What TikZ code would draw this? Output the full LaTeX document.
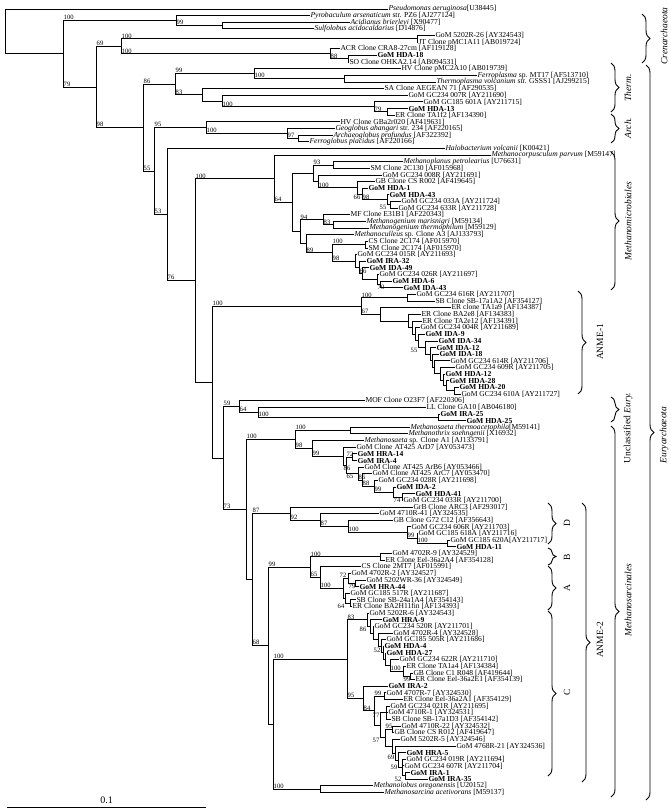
\documentclass[tikz,border=0pt]{standalone}
\usepackage{fontspec}
\setmainfont{Liberation Serif}
\usetikzlibrary{calc,decorations.pathreplacing}
\newcommand{\leaf}[3]{\node[leaf] (l#1) at (#2,{ly(#1)}) {#3};}
\newcommand{\clade}[3]{%
  \foreach \c [count=\k] in {#3}{%
    \ifnum\k=1 \global\let\cfirst\c\fi
    \global\let\clast\c}%
  \path let \p1=(\cfirst), \p2=(\clast) in
    coordinate (#1) at (#2,{0.5*\y1+0.5*\y2});
  \foreach \c in {#3}{\draw[branch] (#1) |- (\c);}}

\begin{document}
\begin{tikzpicture}[x=1pt,y=-1pt,
  declare function={ly(\i)=9+(\i-1)*6.64;},
  branch/.style={line width=1pt},
  leaf/.style={anchor=west,inner sep=0.3pt,font=\fontsize{7.6}{8}\selectfont},
  bs/.style={anchor=south west,inner sep=0.5pt,font=\fontsize{6.6}{7}\selectfont},
  grp/.style={rotate=90,font=\fontsize{9.5}{11}\selectfont},
  brc/.style={decorate,decoration={brace,amplitude=8pt},line width=0.9pt}]
\useasboundingbox (0,0) rectangle (671,812);

\leaf{1}{388}{\textit{Pseudomonas aeruginosa}[U38445]}
\leaf{2}{310}{\textit{Pyrobaculum arsenaticum} str. PZ6 [AJ277124]}
\leaf{3}{350}{\textit{Acidianus brierleyi} [X90477]}
\leaf{4}{314}{\textit{Sulfolobus acidocaldarius} [D14876]}
\leaf{5}{435}{GoM 5202R-26 [AY324543]}
\leaf{6}{418}{JT Clone pMC1A11 [AB019724]}
\leaf{7}{340}{ACR Clone CRA8-27cm [AF119128]}
\leaf{8}{377}{\textbf{GoM HDA-18}}
\leaf{9}{349}{SO Clone OHKA2.14 [AB094531]}
\leaf{10}{401}{HV Clone pMC2A10 [AB019739]}
\leaf{11}{477}{\textit{Ferroplasma} sp. MT17 [AF513710]}
\leaf{12}{436}{\textit{Thermoplasma volcanium} str. GSSS1 [AJ299215]}
\leaf{13}{384}{SA Clone AEGEAN 71 [AF290535]}
\leaf{14}{408}{GoM GC234 007R [AY211690]}
\leaf{15}{423}{GoM GC185 601A [AY211715]}
\leaf{16}{408}{\textbf{GoM HDA-13}}
\leaf{17}{395}{ER Clone TA1f2 [AF134390]}
\leaf{18}{340}{HV Clone GBa2r020 [AF419631]}
\leaf{19}{335}{\textit{Geoglobus ahangari} str. 234 [AF220165]}
\leaf{20}{333}{\textit{Archaeoglobus profundus} [AF322392]}
\leaf{21}{309}{\textit{Ferroglobus placidus} [AF220166]}
\leaf{22}{445}{\textit{Halobacterium volcanii} [K00421]}
\leaf{23}{491}{\textit{Methanocorpusculum parvum} [M59147]}
\leaf{24}{403}{\textit{Methanoplanus petrolearius} [U76631]}
\leaf{25}{370}{SM Clone 2C130 [AF015968]}
\leaf{26}{382}{GoM GC234 008R [AY211691]}
\leaf{27}{375}{GB Clone CS R002 [AF419645]}
\leaf{28}{368}{\textbf{GoM HDA-1}}
\leaf{29}{389}{\textbf{GoM HDA-43}}
\leaf{30}{401}{GoM GC234 033A [AY211724]}
\leaf{31}{398}{GoM GC234 633R [AY211728]}
\leaf{32}{350}{MF Clone E31B1 [AF220343]}
\leaf{33}{366}{\textit{Methanogenium marisnigri} [M59134]}
\leaf{34}{369}{\textit{Methanogenium thermophilum} [M59129]}
\leaf{35}{354}{\textit{Methanoculleus} sp. Clone A3 [AJ133793]}
\leaf{36}{368}{CS Clone 2C174 [AF015970]}
\leaf{37}{368}{SM Clone 2C174 [AF015970]}
\leaf{38}{357}{GoM GC234 015R [AY211693]}
\leaf{39}{366}{\textbf{GoM IRA-32}}
\leaf{40}{369}{\textbf{GoM IDA-49}}
\leaf{41}{379}{GoM GC234 026R [AY211697]}
\leaf{42}{392}{\textbf{GoM HDA-6}}
\leaf{43}{403}{\textbf{GoM IDA-43}}
\leaf{44}{416}{GoM GC234 616R [AY211707]}
\leaf{45}{435}{SB Clone SB-17a1A2 [AF354127]}
\leaf{46}{451}{ER clone TA1a9 [AF134387]}
\leaf{47}{421}{ER Clone BA2e8 [AF134383]}
\leaf{48}{422}{ER Clone TA2e12 [AF134391]}
\leaf{49}{420}{GoM GC234 004R [AY211689]}
\leaf{50}{425}{\textbf{GoM IDA-9}}
\leaf{51}{438}{\textbf{GoM IDA-34}}
\leaf{52}{436}{\textbf{GoM IDA-12}}
\leaf{53}{439}{\textbf{GoM IDA-18}}
\leaf{54}{450}{GoM GC234 614R [AY211706]}
\leaf{55}{455}{GoM GC234 609R [AY211705]}
\leaf{56}{445}{\textbf{GoM HDA-12}}
\leaf{57}{449}{\textbf{GoM HDA-28}}
\leaf{58}{459}{\textbf{GoM HDA-20}}
\leaf{59}{461}{GoM GC234 610A [AY211727]}
\leaf{60}{365}{MOF Clone O23F7 [AF220306]}
\leaf{61}{426}{LL Clone GA10 [AB046180]}
\leaf{62}{440}{\textbf{GoM IRA-25}}
\leaf{63}{466}{\textbf{GoM HDA-25}}
\leaf{64}{410}{\textit{Methanosaeta thermoacetophila}[M59141]}
\leaf{65}{408}{\textit{Methanothrix soehngenii} [X16932]}
\leaf{66}{364}{\textit{Methanosaeta} sp. Clone A1 [AJ133791]}
\leaf{67}{356}{GoM Clone AT425 ArD7 [AY053473]}
\leaf{68}{357}{\textbf{GoM HRA-14}}
\leaf{69}{357}{\textbf{GoM IRA-4}}
\leaf{70}{364}{GoM Clone AT425 ArB6 [AY053466]}
\leaf{71}{372}{GoM Clone AT425 ArC7 [AY053470]}
\leaf{72}{378}{GoM GC234 028R [AY211698]}
\leaf{73}{396}{\textbf{GoM IDA-2}}
\leaf{74}{415}{\textbf{GoM HDA-41}}
\leaf{75}{403}{GoM GC234 033R [AY211700]}
\leaf{76}{413}{GrB Clone ARC3 [AF293017]}
\leaf{77}{379}{GoM 4710R-41 [AY324535]}
\leaf{78}{393}{GB Clone G72 C12 [AF356643]}
\leaf{79}{411}{GoM GC234 606R [AY211703]}
\leaf{80}{418}{GoM GC185 618A [AY211716]}
\leaf{81}{450}{GoM GC185 620A[AY211717]}
\leaf{82}{456}{\textbf{GoM HDA-11}}
\leaf{83}{392}{GoM 4702R-9 [AY324529]}
\leaf{84}{385}{ER Clone Eel-36a2A4 [AF354128]}
\leaf{85}{361}{CS Clone 2MT7 [AF015991]}
\leaf{86}{351}{GoM 4702R-2 [AY324527]}
\leaf{87}{366}{GoM 5202WR-36 [AY324549]}
\leaf{88}{359}{\textbf{GoM HRA-44}}
\leaf{89}{350}{GoM GC185 517R [AY211687]}
\leaf{90}{356}{SB Clone SB-24a1A4 [AF354143]}
\leaf{91}{352}{ER Clone BA2H11fin [AF134393]}
\leaf{92}{369}{GoM 5202R-6 [AY324543]}
\leaf{93}{382}{\textbf{GoM HRA-9}}
\leaf{94}{374}{GoM GC234 520R [AY211701]}
\leaf{95}{393}{GoM 4702R-4 [AY324528]}
\leaf{96}{386}{GoM GC185 505R [AY211686]}
\leaf{97}{384}{\textbf{GoM HDA-4}}
\leaf{98}{386}{\textbf{GoM HDA-27}}
\leaf{99}{399}{GoM GC234 622R [AY211710]}
\leaf{100}{406}{ER Clone TA1a4 [AF134384]}
\leaf{101}{413}{GB Clone C1 R048 [AF419644]}
\leaf{102}{415}{ER Clone Eel-36a2E1 [AF354139]}
\leaf{103}{388}{\textbf{GoM IRA-2}}
\leaf{104}{386}{GoM 4707R-7 [AY324530]}
\leaf{105}{403}{ER Clone Eel-36a2A1 [AF354129]}
\leaf{106}{390}{GoM GC234 021R [AY211695]}
\leaf{107}{388}{GoM 4710R-1 [AY324531]}
\leaf{108}{391}{SB Clone SB-17a1D3 [AF354142]}
\leaf{109}{401}{GoM 4710R-22 [AY324532]}
\leaf{110}{394}{GB Clone CS R012 [AF419647]}
\leaf{111}{400}{GoM 5202R-5 [AY324546]}
\leaf{112}{456}{GoM 4768R-21 [AY324536]}
\leaf{113}{406}{\textbf{GoM HRA-5}}
\leaf{114}{406}{GoM GC234 019R [AY211694]}
\leaf{115}{404}{GoM GC234 607R [AY211704]}
\leaf{116}{410}{\textbf{GoM IRA-1}}
\leaf{117}{428}{\textbf{GoM IRA-35}}
\leaf{118}{373}{\textit{Methanolobus oregonensis} [U20152]}
\leaf{119}{384}{\textit{Methanosarcina acetivorans} [M59137]}

% Crenarchaeota
\clade{cr2}{222}{l3,l4}
\clade{cr}{176}{l2,cr2}
\clade{c56}{417}{l5,l6}
\clade{c89}{348}{l8,l9}
\clade{c79}{330}{l7,c89}
\clade{grpC}{121}{c56,c79}
% Thermoplasmatales and Archaeoglobales
\clade{fp}{344}{l11,l12}
\clade{tf}{254}{l10,fp}
\clade{tj}{387}{l16,l17}
\clade{ti}{374}{l15,tj}
\clade{th}{222}{l14,ti}
\clade{tg}{202}{l13,th}
\clade{nE}{175}{tf,tg}
\clade{aq}{298}{l20,l21}
\clade{ap}{287}{l19,aq}
\clade{al}{206}{l18,ap}
% Methanomicrobiales
\clade{mp24}{333}{l24,l25}
\clade{mg6}{390}{l30,l31}
\clade{mg5}{387}{l29,mg6}
\clade{mg3}{362}{l28,mg5}
\clade{mg2}{357}{l27,mg3}
\clade{mg1}{318}{l26,mg2}
\clade{mup}{313}{mp24,mg1}
\clade{mgp}{333}{l33,l34}
\clade{mgn}{323}{l32,mgp}
\clade{mc7}{380}{l42,l43}
\clade{mc6}{377}{l41,mc7}
\clade{mc5}{362}{l40,mc6}
\clade{mc4}{359}{l39,mc5}
\clade{mc3}{355}{l38,mc4}
\clade{mcp}{365}{l36,l37}
\clade{mc2}{332}{mcp,mc3}
\clade{mc}{306}{l35,mc2}
\clade{mlo}{300}{mgn,mc}
\clade{mm2}{292}{mup,mlo}
\clade{mm}{274}{l23,mm2}
% ANME-1
\clade{a1o}{454}{l58,l59}
\clade{a1n}{446}{l57,a1o}
\clade{a1m}{443}{l56,a1n}
\clade{a1l}{440}{l55,a1m}
\clade{a1j}{434}{l54,a1l}
\clade{a1i}{432}{l53,a1j}
\clade{a1h}{430}{l52,a1i}
\clade{a1g}{425}{l51,a1h}
\clade{a1f}{418}{l50,a1g}
\clade{a1e}{415}{l49,a1f}
\clade{a1d}{412}{l48,a1e}
\clade{a1c}{408}{l47,a1d}
\clade{a1b}{380}{l46,a1c}
\clade{a1a}{407}{l44,l45}
\clade{anme1}{361}{a1a,a1b}
% unclassified
\clade{uv}{438}{l62,l63}
\clade{uu}{258}{l61,uv}
\clade{ut}{239}{l60,uu}
% Methanosarcinales
\clade{ms10}{402}{l74,l75}
\clade{ms9}{393}{l73,ms10}
\clade{ms8}{374}{l72,ms9}
\clade{ms7}{362}{l71,ms8}
\clade{ms6}{358}{l70,ms7}
\clade{ms5}{352}{l68,l69}
\clade{ms4}{346}{ms5,ms6}
\clade{ms3}{343}{l67,ms4}
\clade{ms2}{312}{l66,ms3}
\clade{msp}{350}{l64,l65}
\clade{saeta}{295}{msp,ms2}
\clade{d6}{447}{l81,l82}
\clade{d5}{417}{l80,d6}
\clade{d4}{407}{l79,d5}
\clade{d3}{348}{l78,d4}
\clade{d2}{320}{l77,d3}
\clade{dn}{290}{l76,d2}
\clade{bn}{380}{l83,l84}
\clade{a3}{355}{l87,l88}
\clade{a2}{348}{l86,a3}
\clade{a5}{350}{l90,l91}
\clade{a4}{345}{l89,a5}
\clade{an}{343}{a2,a4}
\clade{ab2}{320}{l85,an}
\clade{ab}{310}{bn,ab2}
\clade{c1i}{410}{l101,l102}
\clade{c1h}{403}{l100,c1i}
\clade{c1g}{390}{l99,c1h}
\clade{c1f}{385}{l98,c1g}
\clade{c1e}{383}{l97,c1f}
\clade{c1d}{381}{l96,c1e}
\clade{c1c}{378}{l95,c1d}
\clade{c1b}{373}{l94,c1c}
\clade{c1a}{370}{l93,c1b}
\clade{c1}{367}{l92,c1a}
\clade{c4}{384}{l104,l105}
\clade{c6}{386}{l106,l107,l108}
\clade{c9}{392}{l109,l110}
\clade{c14}{405}{l116,l117}
\clade{c13}{402}{l114,l115,c14}
\clade{c12}{398}{l113,c13}
\clade{c11}{395}{l112,c12}
\clade{c10}{392}{l111,c11}
\clade{c8}{385}{c9,c10}
\clade{c5}{380}{c6,c8}
\clade{c3}{374}{c4,c5}
\clade{c2}{363}{l103,c3}
\clade{cn}{347}{c1,c2}
\clade{pm}{320}{l118,l119}
\clade{nZ}{273}{cn,pm}
\clade{nY}{268}{ab,nZ}
\clade{anme2}{252}{dn,nY}
\clade{sarc}{246}{saeta,anme2}
% backbone
\clade{nS}{223}{ut,sarc}
\clade{nR}{212}{anme1,nS}
\clade{nN}{195}{mm,nR}
\clade{nM}{167}{l22,nN}
\clade{nK}{154}{al,nM}
\clade{nD}{143}{nE,nK}
\clade{nB}{96}{grpC,nD}
\clade{nA}{63}{cr,nB}
\clade{root}{5}{l1,nA}

\foreach \p/\c/\v in {nA/cr/100,nA/nB/79,cr/cr2/99,nB/grpC/69,nB/nD/98,
  grpC/c56/100,grpC/c79/100,c79/c89/88,nD/nE/86,nD/nK/55,nE/tf/99,nE/tg/83,
  tf/fp/100,th/ti/100,ti/tj/79,nK/al/95,nK/nM/53,al/ap/100,ap/aq/97,
  nM/nN/76,nN/mm/100,mm/mm2/64,mup/mp24/93,mg1/mg2/100,mg3/mg5/98,
  mlo/mgn/94,mgn/mgp/83,mc/mc2/89,mc2/mcp/100,mc2/mc3/98,
  mc4/mc5/66,nR/anme1/100,anme1/a1a/100,anme1/a1b/67,
  nS/ut/59,nS/sarc/73,ut/uu/64,uu/uv/100,sarc/saeta/100,saeta/msp/100,
  saeta/ms2/98,ms2/ms3/99,ms4/ms5/72,ms6/ms7/86,
  ms7/ms8/88,ms8/ms9/99,anme2/dn/87,anme2/nY/68,dn/d2/92,
  d2/d3/87,d3/d4/100,d4/d5/99,d5/d6/100,nY/ab/99,ab/bn/100,ab/ab2/65,
  ab2/an/100,nZ/cn/100,nZ/pm/100,cn/c1/83,
  cn/c2/95,c1g/c1h/100,c2/c3/84,c3/c4/99,c8/c9/95}
  {\node[bs] (bs-\c) at (\p |- \c) {\v};}
\foreach \p/\c/\v/\a in {mg2/mg3/66/north,mg5/mg6/55/north east,
  mc6/mc7/70/north west,a1f/a1g/55/north east,ms3/ms4/86/north west,
  ms4/ms6/65/north west,ms9/ms10/74/north west,a4/a5/64/north east,
  a2/a3/79/north west,an/a2/72/south,c1/c1a/86/north east,
  c1d/c1e/52/south east,c1h/c1i/99/north west,c5/c6/77/north east,
  c5/c8/57/north east,c11/c12/69/south east,c12/c13/59/east,
  c13/c14/52/north east}
  {\node[bs,anchor=\a] (bs-\c) at (\p |- \c) {\v};}

% groups
\draw[brc] (642,14) -- (642,63);
\node[grp] (t-cren) at (664,36) {\textit{Crenarchaeota}};
\draw[brc] (646,65) -- (646,800);
\node[grp] (t-eury) at (664,435) {\textit{Euryarchaeota}};
\draw[brc] (611,63) -- (611,112);
\node[grp] (t-therm) at (628,88) {\textit{Therm.}};
\draw[brc] (611,114) -- (611,143);
\node[grp] (t-arch) at (628,128) {\textit{Arch.}};
\draw[brc] (611,152) -- (611,290);
\node[grp] (t-mmic) at (628,221) {\textit{Methanomicrobiales}};
\draw[brc] (578,291) -- (578,394);
\node[grp] (t-anme1) at (600,342) {ANME-1};
\draw[brc] (611,397) -- (611,422);
\node[grp] (t-uncl) at (628,428) {Unclassified \textit{Eury.}};
\draw[brc] (611,426) -- (611,797);
\node[grp] (t-msar) at (628,600) {\textit{Methanosarcinales}};
\draw[brc] (582,503) -- (582,782);
\node[grp] (t-anme2) at (600,640) {ANME-2};
\draw[brc] (548,503) -- (548,544);
\node[grp] (t-d) at (567,523) {D};
\draw[brc] (548,548) -- (548,565);
\node[grp] (t-b) at (567,557) {B};
\draw[brc] (548,566) -- (548,610);
\node[grp] (t-a) at (567,588) {A};
\draw[brc] (548,611) -- (548,776);
\node[grp] (t-c) at (567,692) {C};

\coordinate (sb-l) at (7,807);
\coordinate (sb-r) at (206,807);
\draw[branch] (sb-l) -- node[above,font=\fontsize{10}{12}\selectfont] (sb-txt) {0.1} (sb-r);
\end{tikzpicture}
\end{document}
